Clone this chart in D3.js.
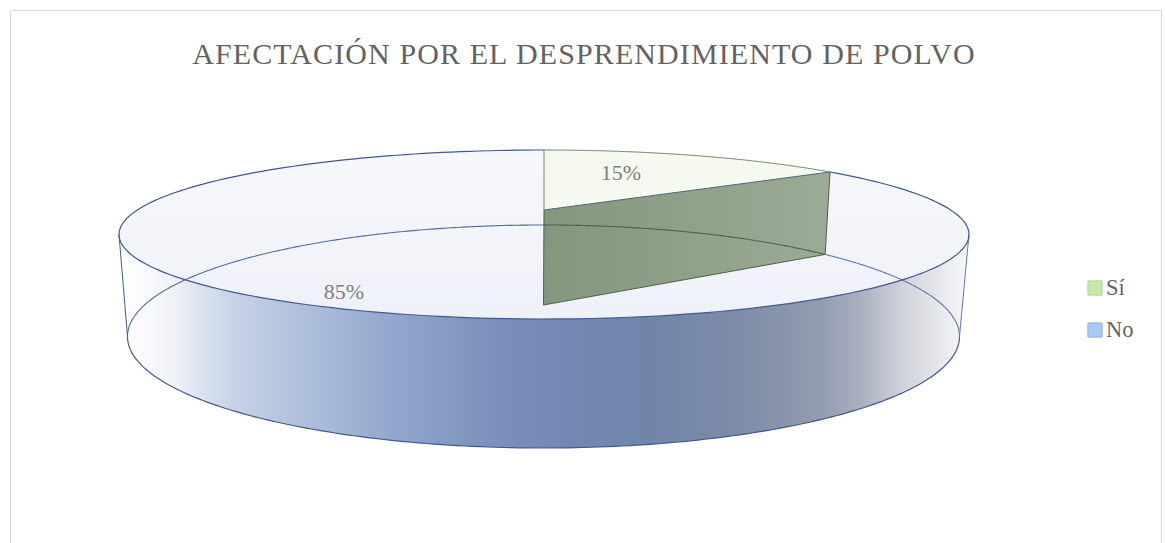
<!DOCTYPE html>
<html><head><meta charset="utf-8">
<script src="https://cdn.jsdelivr.net/npm/d3@7"></script>
<style>html,body{margin:0;padding:0;background:#fff;overflow:hidden}svg{display:block}</style>
</head><body><div id="c"></div>
<script>
const titleText = "AFECTACIÓN POR EL DESPRENDIMIENTO DE POLVO";
const categories = ["Sí", "No"];
const shares = [15.3, 84.7];
const labels = ["15%", "85%"];
const swatchFill = ["#c6e8a8", "#a9c8f2"];
const swatchEdge = ["#b9dc9e", "#9dbbe6"];

const W = 1165, H = 543, font = "'Liberation Serif','Times New Roman',serif";
const svg = d3.select("#c").append("svg").attr("width", W).attr("height", H);
const defs = svg.append("defs");

// perspective projection of a flat disc: far / centre / near y, half width
function disc(far, mid, near, halfW, cx) {
  const d = (near + far - 2*mid) / (near - far);
  const a = far*(1+d) - mid;
  const k = halfW * Math.sqrt(1 - d*d);
  const f = (t, r=1) => {
    const s = Math.sin(t)*r, c = Math.cos(t)*r, w = 1 + d*c;
    return [cx + k*s/w, (a*c + mid)/w];
  };
  f.side = Math.acos(-d);
  return f;
}
const topDisc = disc(150, 210, 319, 425, 544);
const botDisc = disc(225, 305, 448, 416, 543.5);

const pie = d3.pie().sort(null).value(d => d).startAngle(0).endAngle(2*Math.PI);
const arcs = pie(shares);
const sliceEnd = arcs[0].endAngle;

const samples = (a, b, n=180) => d3.range(n+1).map(i => a + (b-a)*i/n);
const line = d3.line();
const rim = (f, a, b) => samples(a, b).map(t => f(t));

function grad(id, x1, y1, x2, y2, stops) {
  const g = defs.append("linearGradient").attr("id", id).attr("gradientUnits", "userSpaceOnUse")
    .attr("x1", x1).attr("y1", y1).attr("x2", x2).attr("y2", y2);
  g.selectAll("stop").data(stops).join("stop")
    .attr("offset", d => (d[0]-(x2>x1?x1:y1))/((x2>x1?x2-x1:y2-y1)))
    .attr("stop-color", d => d[1]);
}
grad("wall", 122, 0, 964, 0, [[122,"#ffffff"],[150,"#f8f9fc"],[175,"#eef1f7"],[200,"#dce3f0"],[235,"#c6d2e7"],[300,"#b0c1dc"],[400,"#8fa5cc"],[500,"#7a8fb9"],[570,"#7288b2"],[650,"#7085a9"],[740,"#7e8ca8"],[820,"#929cb0"],[860,"#a9afbe"],[900,"#cdd0d8"],[964,"#f6f6f8"]]);
grad("face", 0, 150, 0, 319, [[150,"#f7f8fb"],[319,"#eef1f8"]]);
grad("cut", 544, 0, 831, 0, [[544,"#84967e"],[831,"#9cab95"]]);

// frame
svg.append("path").attr("d", `M10.5,${H} V10.5 H1161.5 V${H}`)
  .attr("fill", "none").attr("stroke", "#d9d9d9").attr("stroke-width", 1);

// outer wall
const wallPts = rim(botDisc, botDisc.side, 2*Math.PI - botDisc.side)
  .concat(rim(topDisc, 2*Math.PI - topDisc.side, topDisc.side));
svg.append("path").attr("d", line(wallPts) + "Z").attr("fill", "url(#wall)");

// top face of the large slice, then the small one
svg.append("path").attr("d", line(rim(topDisc, 0, 2*Math.PI)) + "Z").attr("fill", "url(#face)");
svg.append("path").attr("d", line([topDisc(0,0), ...rim(topDisc, 0, sliceEnd)]) + "Z").attr("fill", "#f5f9ef");

// cut faces of the small slice
const cutPts = [topDisc(0,0), topDisc(sliceEnd), botDisc(sliceEnd), botDisc(0,0)];
svg.append("path").attr("d", line(cutPts) + "Z").attr("fill", "url(#cut)");

const blue = "#41598f", green = "#6e8a5f", darkGreen = "#4d6248";
const stroke = (pts, col, w=1) => svg.append("path")
  .attr("d", line(pts)).attr("fill", "none").attr("stroke", col).attr("stroke-width", w);

// far rim of the base seen through the disc
stroke(rim(botDisc, sliceEnd, botDisc.side), "#6679a3", 1.1);
stroke(rim(botDisc, 2*Math.PI - botDisc.side, 2*Math.PI), "#566b9c", 1.1);
stroke(rim(botDisc, 0, sliceEnd), darkGreen, 1.1);
// near rim of the base
stroke(rim(botDisc, botDisc.side, 2*Math.PI - botDisc.side), blue, 1.2);
// side edges
stroke([topDisc(topDisc.side), botDisc(botDisc.side)], "#5f79ac", 1);
stroke([topDisc(2*Math.PI - topDisc.side), botDisc(2*Math.PI - botDisc.side)], "#3f5a96", 1);
// cut outline
stroke([topDisc(0,0), botDisc(0,0), botDisc(sliceEnd), topDisc(sliceEnd)], darkGreen, 1);
stroke([topDisc(0,0), topDisc(sliceEnd)], "#4f6a78", 1);
stroke([topDisc(0), topDisc(0,0)], green, 1);
// top rim
stroke(rim(topDisc, sliceEnd, 2*Math.PI), blue, 1.2);
stroke(rim(topDisc, 0, sliceEnd), green, 1);

// title
svg.append("text").text(titleText).attr("x", 584).attr("y", 64).attr("text-anchor", "middle")
  .attr("font-family", font).attr("font-size", 30).attr("letter-spacing", 1.1).attr("fill", "#636363");

// data labels
const labelAt = [[621, 180], [344, 299]];
svg.selectAll("text.lab").data(labels).join("text").attr("class", "lab").text(d => d)
  .attr("x", (d,i) => labelAt[i][0]).attr("y", (d,i) => labelAt[i][1]).attr("text-anchor", "middle")
  .attr("font-family", font).attr("font-size", 22).attr("fill", "#7f7f7f");

// legend
const rowY = d3.scalePoint().domain(categories).range([288, 330]);
const leg = svg.selectAll("g.leg").data(categories).join("g").attr("class", "leg")
  .attr("transform", d => `translate(0,${rowY(d)})`);
leg.append("rect").attr("x", 1088).attr("y", -7).attr("width", 14).attr("height", 14).attr("rx", 1)
  .attr("fill", (d,i) => swatchFill[i]).attr("stroke", (d,i) => swatchEdge[i]).attr("stroke-width", 1.5);
leg.append("text").text(d => d).attr("x", 1106).attr("y", 7)
  .attr("font-family", font).attr("font-size", 22.5).attr("fill", "#636363");
</script></body></html>
